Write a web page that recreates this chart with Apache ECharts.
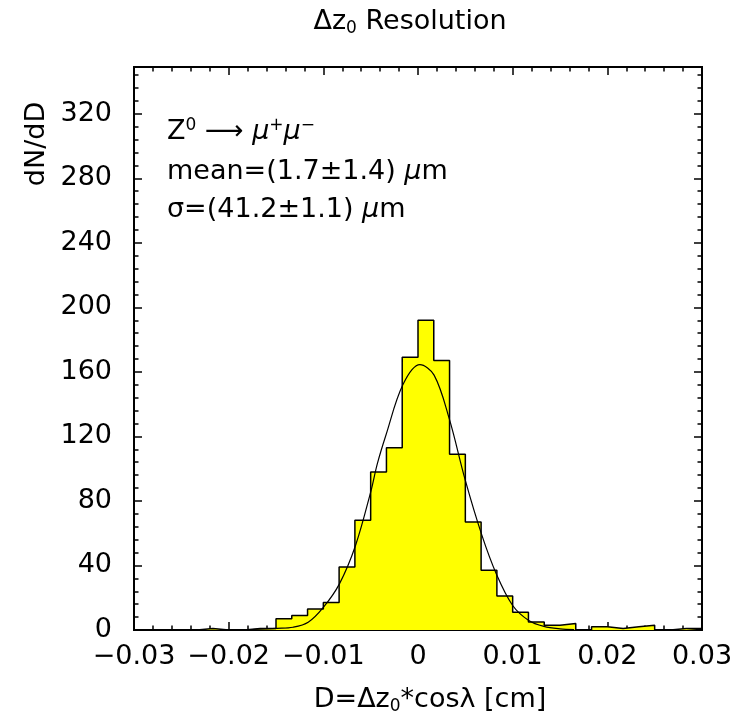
<!DOCTYPE html>
<html>
<head>
<meta charset="utf-8">
<script src="https://cdn.jsdelivr.net/npm/echarts@6/dist/echarts.min.js"></script>
<style>
  html, body { margin: 0; padding: 0; background: #fff; }
  #main { width: 736px; height: 720px; }
</style>
</head>
<body>
<div id="main"></div>
<script>
// histogram: 36 bins between -0.03 and 0.03 cm
var binLo = -0.03;
var binHi = 0.03;
var counts = [0, 0, 0, 0, 1, 0, 0, 1, 1, 7, 9, 13, 17, 39, 68, 98, 113, 169,
              192, 167, 109, 67, 37, 21, 11, 5, 3, 4, 0, 2, 1, 2, 3, 0, 1, 1];

// gaussian fit curve
var fitX = [-0.0175, -0.0149, -0.0132, -0.0116, -0.0100, -0.0083, -0.0066, -0.0050, -0.0043,
            -0.0034, -0.0016, 0.0002, 0.0017, 0.0033, 0.0050, 0.0067, 0.0083, 0.0100,
            0.0117, 0.0133, 0.0150, 0.0165];
var fitY = [0.3, 1.0, 1.7, 4.8, 14, 28.6, 52.4, 85.5, 103,
            120.6, 152, 164.5, 158, 131, 92.7, 59.6, 34.4, 15.2,
            5.9, 2.2, 0.7, 0.3];

// axis ranges / ticks
var xMin = -0.03, xMax = 0.03, xStep = 0.01;
var yMin = 0, yMax = 349, yStep = 40, yMinorStep = 8;

var FONT = 'DejaVu Sans';
var FS = 27;

var binW = (binHi - binLo) / counts.length;
var histData = [];
for (var i = 0; i < counts.length; i++) {
  histData.push([binLo + i * binW, counts[i]]);
}
histData.push([binHi, counts[counts.length - 1]]);

var fitData = fitX.map(function (x, k) { return [x, fitY[k]]; });

function xLabel(v) {
  if (Math.abs(v) < 1e-9) return '0';
  return (v < 0 ? '\u2212' : '') + Math.abs(v).toFixed(2);
}

var lineBlack = { show: true, onZero: false, lineStyle: { color: '#000', width: 2 } };

function xAx(pos, labels) {
  return {
    type: 'value', position: pos, min: xMin, max: xMax, interval: xStep,
    axisLine: lineBlack,
    axisTick: { show: true, inside: true, length: 8, lineStyle: { color: '#000', width: 1.5 } },
    minorTick: { show: true, splitNumber: 5, length: 4.5, lineStyle: { color: '#000', width: 1.5 } },
    splitLine: { show: false }, minorSplitLine: { show: false },
    axisLabel: labels ? {
      show: true, margin: 13, fontFamily: FONT, fontSize: FS, color: '#000',
      formatter: xLabel
    } : { show: false }
  };
}

function yAx(pos, step, len, labels) {
  return {
    type: 'value', position: pos, min: yMin, max: yMax, interval: step,
    axisLine: lineBlack,
    axisTick: { show: true, inside: true, length: len, lineStyle: { color: '#000', width: 1.5 } },
    splitLine: { show: false },
    axisLabel: labels ? {
      show: true, margin: 22, fontFamily: FONT, fontSize: FS, color: '#000',
      showMaxLabel: false
    } : { show: false }
  };
}

var rich = {
  n: { fontFamily: FONT, fontSize: FS, lineHeight: 30, fill: '#000' },
  it: { fontFamily: FONT, fontSize: FS, lineHeight: 30, fontStyle: 'italic', fill: '#000' },
  sub: { fontFamily: FONT, fontSize: 17, lineHeight: 13, verticalAlign: 'bottom', fill: '#000' },
  sup: { fontFamily: FONT, fontSize: 17, lineHeight: 13, verticalAlign: 'top', fill: '#000' }
};

function txt(x, y, text, align, extra) {
  var el = {
    type: 'text', x: x, y: y, z: 100,
    style: {
      text: text, rich: rich, fontFamily: FONT, fontSize: FS, fill: '#000',
      align: align || 'center', verticalAlign: 'middle'
    }
  };
  for (var k in extra) el[k] = extra[k];
  return el;
}

var chart = echarts.init(document.getElementById('main'));
chart.setOption({
  backgroundColor: '#fff',
  animation: false,
  grid: { left: 134, right: 34, top: 67, bottom: 90, containLabel: false },
  xAxis: [xAx('bottom', true), xAx('top', false)],
  yAxis: [
    yAx('left', yStep, 8, true),
    yAx('left', yMinorStep, 4.5, false),
    yAx('right', yStep, 8, false),
    yAx('right', yMinorStep, 4.5, false)
  ],
  series: [
    {
      type: 'line', xAxisIndex: 0, yAxisIndex: 0, data: histData,
      step: 'end', symbol: 'none', z: 2,
      lineStyle: { color: '#000', width: 1.5 },
      areaStyle: { color: '#ffff00', opacity: 1 }
    },
    {
      type: 'line', xAxisIndex: 0, yAxisIndex: 0, data: fitData,
      smooth: 0.35, symbol: 'none', z: 3,
      lineStyle: { color: '#000', width: 1.2 }
    }
  ],
  graphic: [
    txt(410, 22, '{n|\u0394z}{sub|0}{n| Resolution}'),
    txt(37, 144, '{n|dN/dD}', 'center', { rotation: Math.PI / 2 }),
    txt(430, 700, '{n|D=\u0394z}{sub|0}{n|*cos\u03bb [cm]}'),
    txt(167, 132, '{n|Z}{sup|0}{n| \u27f6 }{it|\u03bc}{sup|+}{it|\u03bc}{sup|\u2212}', 'left'),
    txt(167, 172, '{n|mean=(1.7\u00b11.4) }{it|\u03bc}{n|m}', 'left'),
    txt(167, 210, '{n|\u03c3=(41.2\u00b11.1) }{it|\u03bc}{n|m}', 'left')
  ]
});
</script>
</body>
</html>
